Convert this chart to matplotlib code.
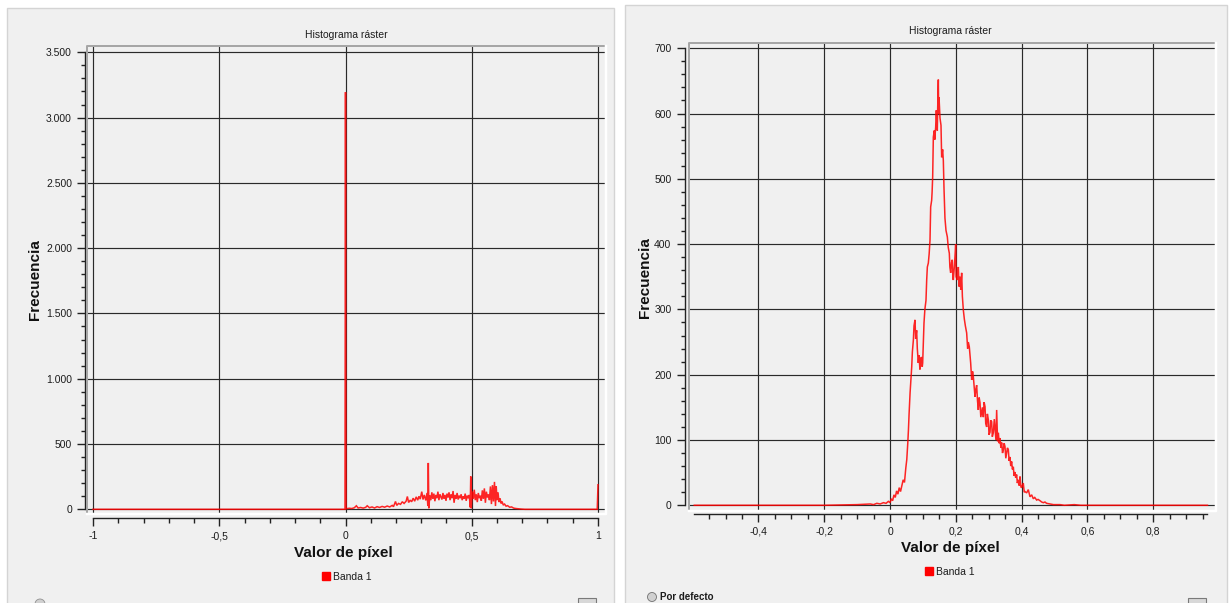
import matplotlib
matplotlib.use("Agg")
import matplotlib.pyplot as plt
from matplotlib.patches import Rectangle, Ellipse
from matplotlib.lines import Line2D
from matplotlib.ticker import FixedLocator, FixedFormatter, FuncFormatter

plt.rcParams['font.family'] = ['Liberation Sans', 'DejaVu Sans']

# ---------------- data ----------------
title_text = "Histograma ráster"
x_label = "Valor de píxel"
y_label = "Frecuencia"
legend_label = "Banda 1"
footer_text = "Por defecto"

# left histogram (NDVI -1..1)
left_x = [-1.0, -0.002, 0.0, 0.002, 0.005, 0.015, 0.025, 0.035, 0.043, 0.05, 0.06, 0.07, 0.08, 0.086,
          0.095, 0.105, 0.115, 0.125, 0.135, 0.145, 0.155, 0.165, 0.175, 0.185, 0.19, 0.198, 0.203,
          0.21, 0.218, 0.225, 0.232, 0.24, 0.245, 0.25, 0.256, 0.262, 0.268, 0.274, 0.28, 0.286,
          0.291, 0.296, 0.302, 0.307, 0.312, 0.318, 0.323, 0.326, 0.328, 0.330, 0.334, 0.338, 0.342,
          0.346, 0.350, 0.354, 0.358, 0.362, 0.366, 0.370, 0.374, 0.378, 0.382, 0.386, 0.390, 0.394,
          0.398, 0.402, 0.406, 0.410, 0.414, 0.418, 0.422, 0.426, 0.430, 0.434, 0.438, 0.442, 0.446,
          0.450, 0.454, 0.458, 0.462, 0.466, 0.470, 0.474, 0.478, 0.482, 0.486, 0.490, 0.494, 0.496,
          0.498, 0.502, 0.506, 0.510, 0.514, 0.518, 0.522, 0.526, 0.530, 0.534, 0.538, 0.542, 0.546,
          0.550, 0.554, 0.558, 0.562, 0.566, 0.570, 0.574, 0.578, 0.582, 0.586, 0.590, 0.594, 0.597,
          0.600, 0.604, 0.608, 0.612, 0.616, 0.620, 0.625, 0.630, 0.636, 0.642, 0.650, 0.658, 0.666,
          0.675, 0.685, 0.695, 0.71, 0.997, 1.0]
left_y = [0, 0, 3195, 5, 5, 8, 6, 12, 27, 10, 14, 9, 15, 27,
          12, 18, 10, 20, 14, 22, 16, 25, 18, 30, 20, 60, 30,
          45, 38, 58, 45, 62, 98, 52, 70, 58, 85, 62, 95, 70,
          100, 78, 135, 75, 110, 68, 125, 25, 355, 8, 105, 70, 130,
          80, 120, 62, 110, 85, 135, 70, 115, 95, 75, 125, 80, 110,
          65, 120, 90, 130, 70, 115, 85, 140, 50, 110, 80, 125, 75,
          105, 85, 115, 70, 100, 80, 120, 65, 105, 85, 110, 15, 252,
          8, 135, 80, 150, 70, 115, 55, 125, 85, 105, 65, 145, 80,
          160, 50, 135, 90, 115, 70, 175, 40, 185, 60, 210, 25, 175,
          70, 130, 55, 85, 45, 60, 32, 40, 24, 28, 16, 18, 9,
          6, 4, 2, 0, 0, 188]

# right histogram
right_x = [-0.595, -0.2, -0.1, -0.06, -0.05, -0.04, -0.03, -0.02, -0.012, -0.005, 0.0, 0.004, 0.008,
           0.012, 0.016, 0.02, 0.024, 0.028, 0.032, 0.036, 0.040, 0.044, 0.048, 0.051, 0.054, 0.056,
           0.058, 0.061, 0.064, 0.066, 0.068, 0.071, 0.073, 0.076, 0.078, 0.081, 0.083, 0.086, 0.088,
           0.091, 0.093, 0.096, 0.098, 0.0993, 0.102, 0.1033, 0.106, 0.1094, 0.1115, 0.1135, 0.1165,
           0.119, 0.1216, 0.1236, 0.1266, 0.128, 0.1297, 0.1317, 0.1347, 0.136, 0.1388, 0.1408, 0.142,
           0.1438, 0.145, 0.1469, 0.148, 0.149, 0.152, 0.155, 0.157, 0.160, 0.1621, 0.1641, 0.167,
           0.1702, 0.1743, 0.177, 0.1803, 0.182, 0.1844, 0.187, 0.1894, 0.191, 0.1925, 0.196, 0.1996,
           0.201, 0.2047, 0.2077, 0.210, 0.2128, 0.215, 0.2178, 0.220, 0.2229, 0.226, 0.229, 0.233,
           0.236, 0.238, 0.241, 0.2452, 0.2482, 0.251, 0.2533, 0.256, 0.2584, 0.261, 0.2634, 0.266,
           0.2685, 0.271, 0.2736, 0.276, 0.2786, 0.281, 0.2837, 0.286, 0.2888, 0.291, 0.2938, 0.296,
           0.2989, 0.301, 0.304, 0.306, 0.309, 0.311, 0.314, 0.317, 0.319, 0.322, 0.3242, 0.327,
           0.3293, 0.332, 0.3343, 0.337, 0.3394, 0.342, 0.3445, 0.347, 0.3495, 0.352, 0.3546, 0.357,
           0.3597, 0.362, 0.3647, 0.367, 0.3698, 0.372, 0.3749, 0.377, 0.3799, 0.382, 0.385, 0.387,
           0.390, 0.393, 0.3951, 0.398, 0.4002, 0.4052, 0.408, 0.4103, 0.4154, 0.4204, 0.4255,
           0.4306, 0.4356, 0.440, 0.4458, 0.450, 0.456, 0.461, 0.466, 0.471, 0.476, 0.486, 0.497,
           0.517, 0.53, 0.56, 0.58, 0.965]
right_y = [0, 0, 1, 2, 1, 3, 2, 4, 3, 6, 4, 10, 7,
           16, 12, 22, 17, 27, 21, 30, 39, 35, 57, 70, 95, 115,
           140, 172, 195, 212, 235, 253, 275, 284, 255, 268, 240, 218, 230,
           208, 225, 227, 212, 218, 260, 279, 300, 314, 345, 365, 371,
           385, 406, 457, 467, 480, 503, 564, 574, 560, 579, 605, 590,
           574, 610, 652, 600, 625, 593, 582, 533, 545, 528, 486, 440,
           421, 411, 395, 386, 365, 356, 372, 376, 350, 345, 368, 400,
           350, 345, 365, 335, 350, 330, 356, 320, 299, 285, 275, 264,
           240, 250, 243, 218, 192, 205, 197, 180, 166, 178, 184, 160,
           146, 165, 157, 135, 143, 150, 135, 158, 151, 125, 120, 140,
           131, 108, 112, 130, 128, 105, 111, 132, 120, 100, 146, 98,
           111, 95, 103, 88, 96, 80, 85, 95, 90, 72, 80, 88,
           85, 68, 74, 60, 67, 55, 59, 45, 51, 42, 47, 34,
           39, 30, 44, 28, 27, 34, 20, 21, 19, 24, 13,
           16, 10, 12, 8, 9, 7, 5, 4, 5, 3, 2, 1,
           1, 0, 1, 0, 0]

left_xticks = [-1.0, -0.5, 0.0, 0.5, 1.0]
left_xticklabels = ["-1", "-0,5", "0", "0,5", "1"]
left_yticks = [0, 500, 1000, 1500, 2000, 2500, 3000, 3500]
right_xticks = [-0.4, -0.2, 0.0, 0.2, 0.4, 0.6, 0.8]
right_xticklabels = ["-0,4", "-0,2", "0", "0,2", "0,4", "0,6", "0,8"]
right_yticks = [0, 100, 200, 300, 400, 500, 600, 700]

# ---------------- layout ----------------
W, H = 1232, 603
fig = plt.figure(figsize=(W / 100, H / 100), dpi=100, facecolor="white")
PT = 72 / 100  # points per pixel


def fx(x):
    return x / W


def fy(y):
    return 1 - y / H


BG = "#f0f0f0"
# panels
fig.add_artist(Rectangle((fx(7), -0.02), fx(614) - fx(7), fy(8) + 0.02, transform=fig.transFigure,
                         facecolor=BG, edgecolor="#d4d4d4", lw=1.0, zorder=0))
fig.add_artist(Rectangle((fx(625), -0.02), fx(1227) - fx(625), fy(5) + 0.02, transform=fig.transFigure,
                         facecolor=BG, edgecolor="#d4d4d4", lw=1.0, zorder=0))

text_col = "#1c1c1c"
fmt_thousands = FuncFormatter(lambda v, p: f"{int(round(v)):,}".replace(",", "."))


def make_panel(box, xlim, ylim, xs, ys, xticks, xlabels, xminor, yticks, yminor,
               xbounds, ybounds, yoff_pt, xoff_pt):
    left, top, right, bottom = box
    ax = fig.add_axes([fx(left), fy(bottom), fx(right) - fx(left), fy(top) - fy(bottom)])
    ax.set_facecolor(BG)
    ax.set_xlim(*xlim)
    ax.set_ylim(*ylim)
    ax.plot(xs, ys, color="#ff0000", lw=1.1, alpha=0.85, zorder=3, solid_joinstyle="miter")
    ax.grid(True, which="major", color="#2a2a2a", lw=0.85, zorder=1)
    ax.set_axisbelow(True)
    for s in ("top", "right"):
        ax.spines[s].set_visible(False)
    ax.spines["left"].set_position(("outward", yoff_pt))
    ax.spines["bottom"].set_position(("outward", xoff_pt))
    ax.spines["left"].set_bounds(*ybounds)
    ax.spines["bottom"].set_bounds(*xbounds)
    for s in ("left", "bottom"):
        ax.spines[s].set_color("#222222")
        ax.spines[s].set_linewidth(1.0)
    ax.xaxis.set_major_locator(FixedLocator(xticks))
    ax.xaxis.set_major_formatter(FixedFormatter(xlabels))
    ax.xaxis.set_minor_locator(FixedLocator(xminor))
    ax.yaxis.set_major_locator(FixedLocator(yticks))
    ax.yaxis.set_major_formatter(fmt_thousands)
    ax.yaxis.set_minor_locator(FixedLocator(yminor))
    ax.tick_params(which="major", direction="out", length=8 * PT, width=1.0, color="#222222",
                   labelsize=7.5, labelcolor=text_col, pad=5 * PT)
    ax.tick_params(which="minor", direction="out", length=4.5 * PT, width=1.0, color="#222222")
    # sunken canvas frame
    ax.add_line(Line2D([0, 0, 1], [0, 1, 1], transform=ax.transAxes, color="#a6a6a6",
                       lw=2 * PT, clip_on=False, zorder=5))
    ax.add_line(Line2D([0, 1, 1], [0, 0, 1], transform=ax.transAxes, color="white",
                       lw=2.5 * PT, clip_on=False, zorder=5))
    return ax


# left panel
l_box = (87.4, 46.0, 606.0, 514.0)
l_xminor = [round(-1 + 0.1 * i, 2) for i in range(21) if i % 5 != 0]
l_yminor = [v for v in range(0, 3501, 100) if v % 500 != 0]
ax1 = make_panel(l_box, (-1.0222, 1.0317), (-36, 3548), left_x, left_y,
                 left_xticks, left_xticklabels, l_xminor, left_yticks, l_yminor,
                 (-1.0, 1.0), (0, 3500), 2.4 * PT, 4.3 * PT)

# right panel
r_box = (688.7, 42.7, 1215.5, 510.7)
r_xminor = [round(-0.55 + 0.05 * i, 2) for i in range(31)]
r_xminor = [v for v in r_xminor if abs(round(v / 0.2) * 0.2 - v) > 1e-6]
r_yminor = [v for v in range(0, 701, 20) if v % 100 != 0]
ax2 = make_panel(r_box, (-0.6119, 0.9894), (-8.3, 708.5), right_x, right_y,
                 right_xticks, right_xticklabels, r_xminor, right_yticks, r_yminor,
                 (-0.597, 0.965), (0, 700), 4.2 * PT, 3.3 * PT)

# titles, axis labels
fig.text(fx(346.7), fy(35), title_text, ha="center", va="center", fontsize=7.5, color=text_col)
fig.text(fx(950), fy(31.5), title_text, ha="center", va="center", fontsize=7.5, color=text_col)
for (xc, yc) in ((343.5, 552.7), (950, 548)):
    fig.text(fx(xc), fy(yc), x_label, ha="center", va="center", fontsize=11, fontweight="bold",
             color="#111111")
for (xc, yc) in ((35, 280), (645, 278)):
    fig.text(fx(xc), fy(yc), y_label, ha="center", va="center", fontsize=11, fontweight="bold",
             color="#111111", rotation=90)

# legends
for ax, (xc, yc) in ((ax1, (347, 576.5)), (ax2, (950, 572))):
    h = Line2D([], [], marker="s", markersize=6, color="#ff0000", linestyle="none")
    ax.legend([h], [legend_label], loc="center", bbox_to_anchor=(fx(xc), fy(yc)),
              bbox_transform=fig.transFigure, frameon=False, fontsize=7.5,
              handletextpad=0.3, handlelength=0.8, borderpad=0, labelcolor=text_col)

# bottom widgets of the window
for xc in (587, 1197):
    fig.add_artist(Rectangle((fx(xc - 9), fy(606)), 18 / W, 8 / H, transform=fig.transFigure,
                             facecolor="#d8d8d8", edgecolor="#7a7a7a", lw=0.8))
fig.add_artist(Ellipse((fx(40), fy(604)), 10 / W, 10 / H, transform=fig.transFigure,
                       facecolor="#d0d0d0", edgecolor="#909090", lw=0.6))
fig.add_artist(Ellipse((fx(652), fy(597)), 9 / W, 9 / H, transform=fig.transFigure,
                       facecolor="#d0d0d0", edgecolor="#707070", lw=0.6))
fig.text(fx(660), fy(597), footer_text, ha="left", va="center", fontsize=7, fontweight="bold",
         color=text_col)

fig.savefig("out.png", dpi=100, facecolor="white")
